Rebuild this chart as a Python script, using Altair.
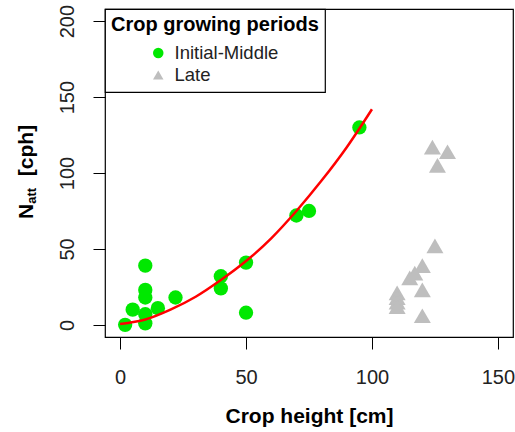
import altair as alt
import pandas as pd

# Crop growing period: initial-middle stage
early_height = [2, 5, 10, 10, 10, 10, 10, 15, 22, 40, 40, 50, 50, 70, 75, 95]
early_natt = [0, 10, 7, 1, 39, 23, 18, 11, 18, 32, 24, 41, 8, 72, 75, 130]

# Crop growing period: late stage
late_height = [124, 130, 126, 125, 120, 117, 115, 120, 110, 110, 110, 110, 120]
late_natt = [117, 114, 105, 52, 39, 34, 31, 23, 21, 18, 15, 12, 6]

# Fitted curve for the initial-middle stage
fit_height = [0, 10, 20, 30, 40, 50, 60, 70, 80, 90, 100]
fit_natt = [0.5, 3.5, 10, 18.5, 29.5, 42, 57, 75, 95, 117, 142]

periods = ["Initial-Middle", "Late"]
x_ticks = [0, 50, 100, 150]
y_ticks = [0, 50, 100, 150, 200]

FONT = "Liberation Sans"

early_df = pd.DataFrame({"height": early_height, "natt": early_natt, "period": periods[0]})
late_df = pd.DataFrame({"height": late_height, "natt": late_natt, "period": periods[1]})
fit_df = pd.DataFrame({"height": fit_height, "natt": fit_natt})

x_enc = alt.X(
    "height:Q",
    scale=alt.Scale(domain=[-6, 156], nice=False, zero=False),
    axis=alt.Axis(
        values=x_ticks,
        title="Crop height [cm]",
        titleFontSize=21,
        titleFontWeight="bold",
        titleColor="black",
        titleFont=FONT,
        titlePadding=18,
        labelFontSize=20,
        labelFont=FONT,
        labelColor="#222222",
        labelPadding=18,
        tickSize=12,
        tickColor="black",
        domain=False,
        grid=False,
    ),
)
y_enc = alt.Y(
    "natt:Q",
    scale=alt.Scale(domain=[-8, 208], nice=False, zero=False),
    axis=alt.Axis(
        values=y_ticks,
        title=None,
        labelAngle=270,
        labelAlign="center",
        labelBaseline="alphabetic",
        labelFontSize=20,
        labelFont=FONT,
        labelColor="#222222",
        labelPadding=19.5,
        tickSize=12,
        tickColor="black",
        domain=False,
        grid=False,
    ),
)

color_enc = alt.Color(
    "period:N",
    scale=alt.Scale(domain=periods, range=["#00e800", "#bebebe"]),
    title="Crop growing periods",
)
shape_enc = alt.Shape(
    "period:N",
    scale=alt.Scale(domain=periods, range=["circle", "triangle-up"]),
    title="Crop growing periods",
)

early_pts = alt.Chart(early_df).mark_point(filled=True, opacity=1, size=205, strokeWidth=0).encode(
    x=x_enc, y=y_enc, color=color_enc, shape=shape_enc
)
late_pts = alt.Chart(late_df).mark_point(filled=True, opacity=1, size=289, strokeWidth=0).encode(
    x=x_enc, y=y_enc, color=color_enc, shape=shape_enc
)
fit_line = alt.Chart(fit_df).mark_line(color="#ff0000", strokeWidth=2.5, interpolate="monotone").encode(
    x="height:Q", y="natt:Q"
)

# Y-axis title with a subscript, built from three rotated text pieces
title_df = pd.DataFrame({"k": [0]})


def title_piece(text, size, px, py):
    return alt.Chart(title_df).mark_text(
        text=text,
        angle=270,
        align="center",
        baseline="alphabetic",
        fontSize=size,
        fontWeight="bold",
        font=FONT,
        color="black",
    ).encode(x=alt.value(px), y=alt.value(py))


y_title = title_piece("N", 21, -71.7, 202.4) + title_piece("att", 13, -69, 186.8) + title_piece("[cph]", 21, -71.7, 141.5)

chart = (
    alt.layer(early_pts, fit_line, late_pts, y_title)
    .resolve_scale(color="shared", shape="shared")
    .properties(
        width=408,
        height=328,
        autosize=alt.AutoSizeParams(type="none"),
        padding={"left": 105, "top": 9, "right": 2, "bottom": 95},
        background="white",
    )
    .configure_view(stroke="black", strokeWidth=1.2)
    .configure_legend(
        orient="none",
        legendX=0,
        legendY=0,
        strokeColor="black",
        strokeWidth=1.2,
        fillColor="white",
        padding=6,
        cornerRadius=0,
        titleFontSize=20,
        titleFontWeight="bold",
        titleFont=FONT,
        titleColor="black",
        titlePadding=7,
        titleLimit=400,
        labelFontSize=18.5,
        labelFont=FONT,
        labelColor="#222222",
        labelLimit=300,
        symbolSize=110,
        symbolStrokeWidth=0,
        symbolOffset=38,
        labelOffset=7,
        rowPadding=0,
        clipHeight=22,
    )
)

chart.save("out.html", embed_options={"renderer": "svg", "actions": False})
